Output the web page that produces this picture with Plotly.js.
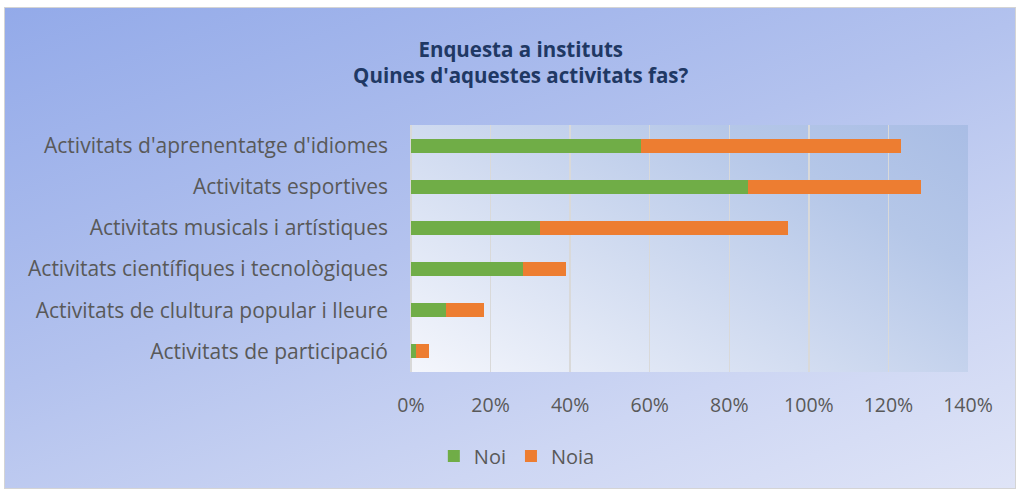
<!DOCTYPE html>
<html>
<head>
<meta charset="utf-8">
<script src="https://cdn.plot.ly/plotly-3.0.1.min.js"></script>
<style>
  html, body { margin:0; padding:0; background:#ffffff; width:1017px; height:490px; overflow:hidden; }
  #bg { position:absolute; left:4px; top:7px; width:1012px; height:482px; box-sizing:border-box;
        border:1px solid #d4d4d4;
        background: linear-gradient(160deg, #93aae9 0%, #b3c2ee 45%, #cdd6f3 75%, #dfe4f7 100%); }
  #pa { position:absolute; left:411px; top:125px; width:557px; height:247px;
        background: linear-gradient(30deg, #f4f6fc 0%, #d3ddf1 40%, #b5c7e8 75%, #a9bde5 100%); }
  #chart { position:absolute; left:0; top:0; width:1017px; height:490px; }
</style>
</head>
<body>
<div id="bg"></div>
<div id="pa"></div>
<div id="chart"></div>
<script>
const categories = [
  "Activitats d'aprenentatge d'idiomes",
  "Activitats esportives",
  "Activitats musicals i artístiques",
  "Activitats científiques i tecnològiques",
  "Activitats de clultura popular i lleure",
  "Activitats de participació"
];
const noi  = [0.579, 0.847, 0.324, 0.281, 0.088, 0.013];
const noia = [0.652, 0.436, 0.623, 0.108, 0.096, 0.032];
const xTicks = [0, 0.2, 0.4, 0.6, 0.8, 1.0, 1.2, 1.4];

const traces = [
  { type:'bar', orientation:'h', name:'Noi', y:categories, x:noi,
    marker:{ color:'#70ad47' }, hoverinfo:'x+y' },
  { type:'bar', orientation:'h', name:'Noia', y:categories, x:noia,
    marker:{ color:'#ed7d31' }, hoverinfo:'x+y' }
];

const layout = {
  width:1017, height:490,
  margin:{ l:411, r:49, t:125, b:118 },
  paper_bgcolor:'rgba(0,0,0,0)',
  plot_bgcolor:'rgba(0,0,0,0)',
  barmode:'stack',
  bargap:0.66,
  showlegend:true,
  title:{ text:"Enquesta a instituts<br>Quines d'aquestes activitats fas?",
          font:{ family:'"Open Sans", sans-serif', size:20.5, color:'#203864', weight:'bold' },
          x:0.512, xanchor:'center', y:0.884, yanchor:'middle' },
  font:{ family:'"Open Sans", "Noto Sans", sans-serif', size:21, color:'#595959' },
  xaxis:{ range:[0,1.4], tickvals:xTicks, tickformat:'.0%', showgrid:true, gridcolor:'#d9d9d9', gridwidth:1.5,
          zeroline:true, zerolinecolor:'#d9d9d9', zerolinewidth:1.5, showline:false, ticks:'', ticklabelstandoff:19,
          tickfont:{ size:19.5, color:'#595959' }, fixedrange:true },
  yaxis:{ autorange:'reversed', showgrid:false, showline:false, ticks:'', ticklabelstandoff:22,
          tickfont:{ size:21, color:'#595959' }, fixedrange:true },
  legend:{ orientation:'h', x:0.19, xanchor:'center', y:-0.34, yanchor:'middle', traceorder:'normal',
           itemwidth:30, font:{ size:20, color:'#595959' }, bgcolor:'rgba(0,0,0,0)' }
};

Plotly.newPlot('chart', traces, layout, { displayModeBar:false, staticPlot:true });
</script>
</body>
</html>
